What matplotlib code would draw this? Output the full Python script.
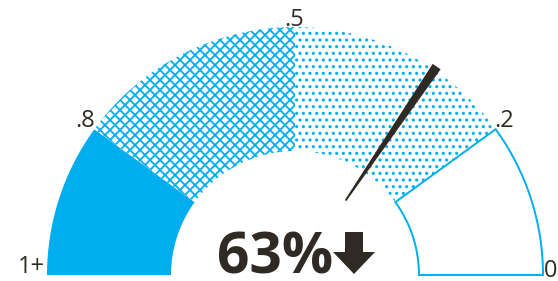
import numpy as np
import matplotlib
matplotlib.use("Agg")
import matplotlib.pyplot as plt
from matplotlib.patches import Wedge, Polygon

# gauge scale: 1+ on the left, 0 on the right
bounds = [1.0, 0.8, 0.5, 0.2, 0.0]
tick_labels = ["1+", ".8", ".5", ".2", "0"]
band_style = ["solid", "cross", "dots", "empty"]
needle_value = 0.31
headline = "63%"

BLUE = "#00aeef"
INK = "#2f2a23"

# dpi 120 makes the hatch spacing match the original pattern
DPI = 120
K = 100 / DPI  # sizes below are tuned as if at 100 dpi

plt.rcParams["font.family"] = ["Open Sans", "DejaVu Sans"]

fig = plt.figure(figsize=(558 / DPI, 281 / DPI), dpi=DPI)
ax = fig.add_axes([0, 0, 1, 1])
ax.set_xlim(0, 558)
ax.set_ylim(0, 281)
ax.axis("off")

cx, cy = 295, 6
R, r_in = 248, 124


def ang(v):
    return 180 * v


def band(a1, a2, hatch=None, hlw=1.0, **kw):
    with plt.rc_context({"hatch.linewidth": hlw * K}):
        w = Wedge((cx, cy), R, a1, a2, width=R - r_in, hatch=hatch, **kw)
        if hatch and hasattr(w, "set_hatch_linewidth"):
            w.set_hatch_linewidth(hlw * K)
    ax.add_patch(w)


for lo_v, hi_v, style in zip(bounds[1:], bounds[:-1], band_style):
    a1, a2 = ang(lo_v), ang(hi_v)
    if style == "solid":
        band(a1, a2, facecolor=BLUE, edgecolor="none")
    elif style == "cross":
        band(a1, a2, hatch="xxxx", hlw=1.3, facecolor="white", edgecolor=BLUE, linewidth=0)
    elif style == "dots":
        band(a1, a2, hatch="...", hlw=1.3, facecolor="white", edgecolor=BLUE, linewidth=0)
    else:
        band(a1, a2, facecolor="white", edgecolor=BLUE, linewidth=1.4 * K)

# tick labels at the outer edge of each boundary
fs = 17 * K
for v, lab in zip(bounds, tick_labels):
    t = np.radians(ang(v))
    x, y = cx + R * np.cos(t), cy + R * np.sin(t)
    if v == 1.0:
        ax.text(x - 2, y - 4, lab, ha="right", va="bottom", fontsize=fs, color=INK)
    elif v == 0.0:
        ax.text(x + 1, y - 8, lab, ha="left", va="bottom", fontsize=fs, color=INK)
    elif v > 0.5:
        ax.text(x + 1, y - 4, lab, ha="right", va="bottom", fontsize=fs, color=INK)
    elif v < 0.5:
        ax.text(x - 1, y - 4, lab, ha="left", va="bottom", fontsize=fs, color=INK)
    else:
        ax.text(x - 1, y - 5, lab, ha="center", va="bottom", fontsize=fs, color=INK)

# needle
t = np.radians(ang(needle_value))
u = np.array([np.cos(t), np.sin(t)])
n = np.array([-np.sin(t), np.cos(t)])
c = np.array([cx, cy])
r0, r1 = 90, 252
base = c + r0 * u
tip = c + r1 * u
ax.add_patch(Polygon([base - n * 0.9, base + n * 0.9, tip + n * 4.8, tip - n * 4.8],
                     closed=True, facecolor=INK, edgecolor="none"))

# headline value and down arrow
ax.text(275, 7, headline, ha="center", va="baseline", fontsize=41 * K,
        fontweight="bold", color=INK)
ax_x, top, bot = 354, 49, 7
ax.add_patch(Polygon([(ax_x - 9, top), (ax_x + 9, top), (ax_x + 9, 29), (ax_x + 21, 29),
                      (ax_x, bot), (ax_x - 21, 29), (ax_x - 9, 29)],
                     closed=True, facecolor=INK, edgecolor="none"))

fig.savefig("out.png", dpi=DPI)
